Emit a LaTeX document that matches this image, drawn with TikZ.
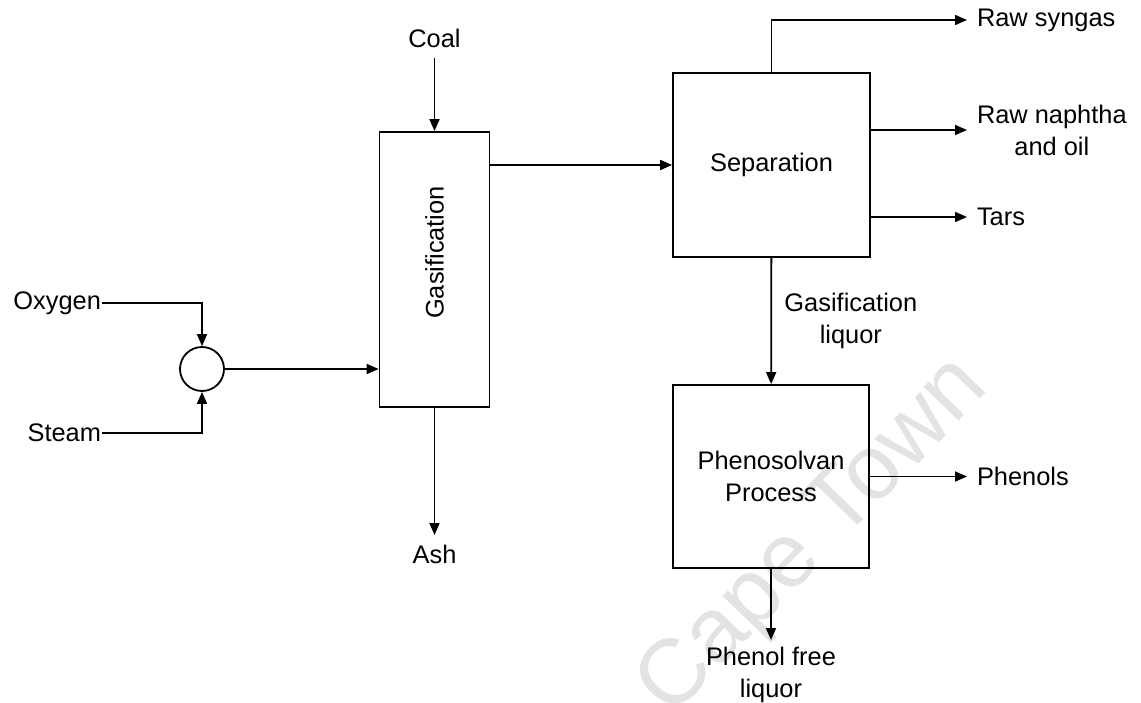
\documentclass[tikz,border=0pt]{standalone}
\usepackage{fontspec}
\setmainfont{Liberation Sans}
\usepackage{tikz}
\usetikzlibrary{arrows.meta, positioning}

\begin{document}
\begin{tikzpicture}[
    x=1bp, y=-1bp,
    line width=1.8bp,
    >={Triangle[length=12bp,width=10bp]},
    unit/.style={
      draw,
      align=center,
      inner sep=0pt,
      font=\fontsize{25.5}{32}\selectfont
    },
    stream/.style={
      align=center,
      inner sep=2bp,
      outer sep=8bp,
      font=\fontsize{25.5}{32}\selectfont
    },
    feed/.style={
      inner sep=1bp,
      outer sep=0bp,
      font=\fontsize{25.5}{32}\selectfont
    }
  ]
    \useasboundingbox (0,0) rectangle (1141,703);
    \node[text=black!11, rotate=46, font=\fontsize{92}{92}\selectfont] (mark) at (815,538) {Cape Town};

    \node[unit, minimum width=110bp, minimum height=275bp] (gasif) at (434.5,269.5) {\rotatebox{90}{\hspace{34bp}Gasification}};
    \node[unit, minimum width=197bp, minimum height=184bp] (sep) at (771.5,165) {Separation};
    \node[unit, minimum width=196bp, minimum height=183bp] (pheno) at (771,476.5) {Phenosolvan\\Process};
    \node[draw, circle, minimum size=44bp, inner sep=0pt] (mixer) at (202,369) {};

    \node[stream, anchor=south] (coal) at (434.5,58) {Coal};
    \node[stream, anchor=north] (ash) at (434.5,535) {Ash};
    \node[feed, anchor=east] (oxygen) at (102,303) {Oxygen};
    \node[feed, anchor=east] (steam) at (102,433) {Steam};
    \node[stream, anchor=west] (syngas) at (967,20) {Raw syngas};
    \node[stream, anchor=west] (naphtha) at (967,130) {Raw naphtha\\and oil};
    \node[stream, anchor=west] (tars) at (967,217) {Tars};
    \node[stream, anchor=west] (phenols) at (967,476.5) {Phenols};
    \node[stream, anchor=north, outer sep=5bp] (freeliq) at (771,640) {Phenol free\\liquor};

    \draw[->] (coal) -- (gasif);
    \draw[->] (gasif) -- (ash);
    \draw[->] (oxygen) -| (mixer);
    \draw[->] (steam) -| (mixer);
    \draw[->] (mixer) -- (mixer -| gasif.west);
    \draw[->] (sep.west -| gasif.east) -- (sep.west);
    \draw[->] (sep.north) |- (syngas);
    \draw[->] (sep.east |- naphtha) -- (naphtha);
    \draw[->] (sep.east |- tars) -- (tars);
    \draw[->] (sep) -- node[right, xshift=9bp, align=center, font=\fontsize{25.5}{32}\selectfont] (liqlabel) {Gasification\\liquor} (pheno);
    \draw[->] (pheno) -- (phenols);
    \draw[->] (pheno) -- (freeliq);
  \end{tikzpicture}
\end{document}
